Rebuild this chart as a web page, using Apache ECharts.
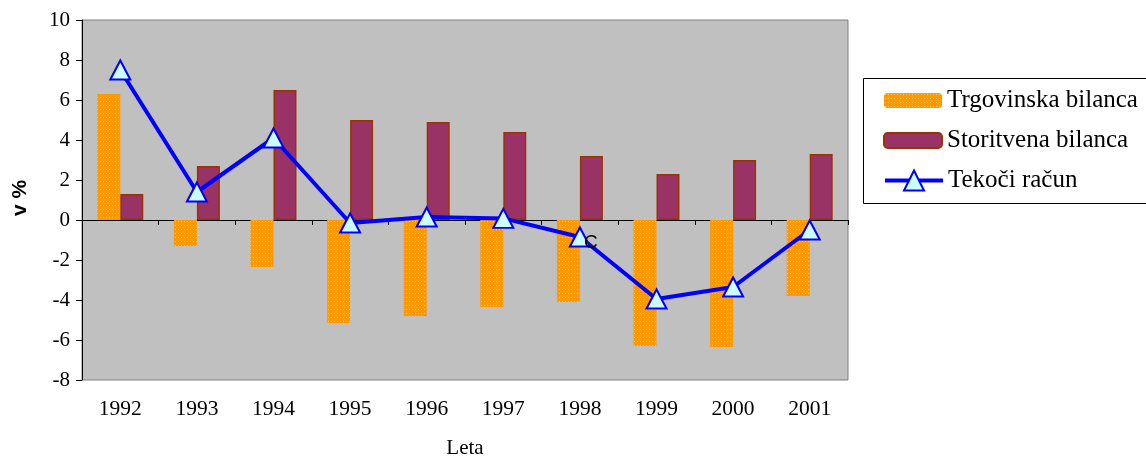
<!DOCTYPE html>
<html>
<head>
<meta charset="utf-8">
<script src="https://cdn.jsdelivr.net/npm/echarts@6/dist/echarts.min.js"></script>
<style>html,body{margin:0;padding:0;background:#fff;overflow:hidden}#c{width:1146px;height:457px}</style>
</head>
<body>
<div id="c"></div>
<script>
const years = ['1992','1993','1994','1995','1996','1997','1998','1999','2000','2001'];
const trgovinska = [6.3, -1.3, -2.35, -5.15, -4.8, -4.35, -4.1, -6.3, -6.35, -3.8];
const storitvena = [1.3, 2.7, 6.5, 5.0, 4.9, 4.4, 3.2, 2.3, 3.0, 3.3];
const tekoci = [7.5, 1.4, 4.1, -0.15, 0.15, 0.08, -0.85, -3.95, -3.35, -0.5];
const yTicks = [-8, -6, -4, -2, 0, 2, 4, 6, 8, 10];

const serif = '"Liberation Serif", "Times New Roman", serif';

const pc = document.createElement('canvas');
pc.width = 3; pc.height = 4;
const g = pc.getContext('2d');
g.fillStyle = '#FF9900'; g.fillRect(0, 0, 3, 4);
g.fillStyle = '#FFC870'; g.fillRect(1, 1, 1, 1);
const orangePattern = { image: pc, repeat: 'repeat' };

const legendText = { fontFamily: serif, fontSize: 25, color: '#000', lineHeight: 27 };

const chart = echarts.init(document.getElementById('c'), null, { renderer: 'canvas', width: 1146, height: 457 });
chart.setOption({
  animation: false,
  backgroundColor: '#ffffff',
  grid: {
    left: 82, top: 20, width: 766, height: 360,
    containLabel: false, outerBoundsMode: 'none',
    show: true, backgroundColor: '#C0C0C0', borderColor: '#808080', borderWidth: 1
  },
  graphic: [{
    type: 'rect', left: 863, top: 78, silent: true,
    shape: { width: 300, height: 125 },
    style: { fill: '#fff', stroke: '#000', lineWidth: 1 }, z: -1
  }],
  legend: [{
    orient: 'vertical',
    left: 883, top: 87,
    padding: 0,
    itemWidth: 58, itemHeight: 15, itemGap: 13,
    textStyle: legendText,
    data: ['Trgovinska bilanca', 'Storitvena bilanca']
  }, {
    orient: 'vertical',
    left: 883, top: 167,
    padding: 0,
    itemWidth: 58, itemHeight: 25, itemGap: 13,
    textStyle: legendText,
    lineStyle: { width: 4 },
    data: [{ name: 'Tekoči račun', lineStyle: { width: 4, color: '#0000FF' } }]
  }],
  xAxis: [{
    type: 'category', data: years, boundaryGap: true,
    axisLine: { onZero: true, lineStyle: { color: '#000', width: 1 } },
    axisTick: { show: true, length: 5, lineStyle: { color: '#000' } },
    axisLabel: { show: false }
  }, {
    type: 'category', data: years, position: 'bottom', boundaryGap: true,
    axisLine: { show: false }, axisTick: { show: false },
    axisLabel: { show: true, margin: 18, fontFamily: serif, fontSize: 21.5, color: '#000' },
    name: 'Leta', nameLocation: 'middle', nameGap: 58,
    nameTextStyle: { fontFamily: serif, fontSize: 21, color: '#000' }
  }],
  yAxis: {
    type: 'value', min: yTicks[0], max: yTicks[yTicks.length - 1], interval: 2,
    axisLine: { show: true, lineStyle: { color: '#000', width: 1 } },
    axisTick: { show: true, length: 6, lineStyle: { color: '#000' } },
    splitLine: { show: false },
    axisLabel: { margin: 12, fontFamily: serif, fontSize: 21, color: '#000' },
    name: 'v %', nameLocation: 'middle', nameGap: 51, nameRotate: 90,
    nameTextStyle: { fontFamily: '"Liberation Sans", Arial, sans-serif', fontWeight: 'bold', fontSize: 21, color: '#000', padding: [0, 0, 0, 4] }
  },
  series: [{
    name: 'Trgovinska bilanca', type: 'bar', data: trgovinska,
    barGap: '0%', barCategoryGap: '40%',
    itemStyle: { color: orangePattern }
  }, {
    name: 'Storitvena bilanca', type: 'bar', data: storitvena,
    itemStyle: { color: '#993366', borderColor: '#993300', borderWidth: 1.5 }
  }, {
    name: 'Tekoči račun', type: 'line',
    data: tekoci.map((v, i) => i === 6 ? {
      value: v,
      label: { show: true, formatter: 'C', position: 'inside', offset: [11, 6],
        fontFamily: '"Liberation Sans", Arial, sans-serif', fontSize: 19, color: '#000' }
    } : v),
    symbol: 'triangle', symbolSize: [20, 19],
    lineStyle: { color: '#0000FF', width: 4 },
    itemStyle: { color: '#CCFFFF', borderColor: '#0000FF', borderWidth: 2 },
    z: 5
  }]
});
</script>
</body>
</html>
